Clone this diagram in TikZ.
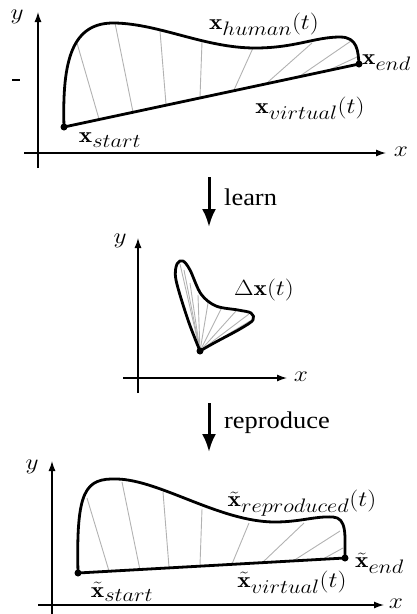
\RequirePackage{fix-cm}
\documentclass[tikz,border=0pt]{standalone}
\usepackage{fontspec}
\newfontfamily\tnr{Liberation Serif}
\usetikzlibrary{arrows.meta,calc}
\newcommand{\wide}[1]{\scalebox{1.1}[1]{#1}}
\newcommand{\mwide}[1]{\scalebox{1.15}[1]{#1}}
\newcommand{\sbx}[1]{\mbox{\fontsize{19.5}{22}\selectfont$#1$}}
\begin{document}
\begin{tikzpicture}[x=1pt,y=-1pt,
  axis/.style={line width=1.3pt,-{Latex[length=10pt,width=7pt]}},
  traj/.style={line width=2.8pt,line join=round,line cap=round},
  spoke/.style={black!30,line width=0.9pt},
  lbl/.style={font=\fontsize{22}{26}\selectfont,inner sep=0pt},
  word/.style={font=\tnr\fontsize{24}{28}\selectfont,inner sep=0pt,anchor=west},
  dot/.style={circle,fill=black,inner sep=0pt,minimum size=7pt},
  flowarrow/.style={line width=3pt,-{Latex[length=18pt,width=14pt]}}]
\useasboundingbox (0,0) rectangle (416,614);
% ---------------- top panel ----------------
\coordinate (ax1l) at (24,153); \coordinate (ax1r) at (386,153);
\coordinate (ay1b) at (38,168); \coordinate (ay1t) at (38,12);
\draw[axis] (ax1l) -- (ax1r);
\draw[axis] (ay1b) -- (ay1t);
\node[lbl] (x1) at (401,152) {\mwide{$x$}};
\node[lbl] (y1) at (17,17) {\mwide{$y$}};
\coordinate (tk1) at (12,80); \coordinate (tk2) at (20,80);
\draw[line width=1.8pt] (tk1) -- (tk2);
\coordinate (s1) at (64,127); \coordinate (e1) at (359,64);
\foreach \ca/\cb/\la/\lb in {77/43/99/119, 115/23/133/112, 160/31/166/104, 202/42/200/97,
  253/48/234/90, 312/43/268/82, 351/41/300/76, 357/57/329/70}{
  \draw[spoke] (\ca,\cb) -- (\la,\lb);}
\draw[traj] (s1) -- (e1);
\draw[traj] (s1) .. controls (62,60) and (72,22) .. (115,23)
  .. controls (160,24) and (205,48) .. (255,48)
  .. controls (295,48) and (315,37) .. (340,37)
  .. controls (358,37) and (358,52) .. (e1);
\node[dot] (ds1) at (s1) {};
\node[dot] (de1) at (e1) {};
\node[lbl] (hum) at (264,24) {\mwide{$\mathbf{x}_{\sbx{human}}(t)$}};
\node[lbl,anchor=west] (xe1) at (362,63) {\mwide{$\mathbf{x}_{\sbx{end}}$}};
\node[lbl] (xv1) at (310,108) {\mwide{$\mathbf{x}_{\sbx{virtual}}(t)$}};
\node[lbl] (xs1) at (110,140) {\mwide{$\mathbf{x}_{\sbx{start}}$}};
% ---------------- learn ----------------
\coordinate (la1) at (209,177); \coordinate (la2) at (209,227);
\draw[flowarrow] (la1) -- (la2);
\node[word] (learn) at (224,197) {\wide{learn}};
% ---------------- middle panel ----------------
\coordinate (ax2l) at (123,378); \coordinate (ax2r) at (287,378);
\coordinate (ay2b) at (138,393); \coordinate (ay2t) at (138,238);
\draw[axis] (ax2l) -- (ax2r);
\draw[axis] (ay2b) -- (ay2t);
\node[lbl] (x2) at (301,377) {\mwide{$x$}};
\node[lbl] (y2) at (120,241) {\mwide{$y$}};
\coordinate (d0) at (200,351);
\foreach \p in {(180,264),(184,270),(190,283),(198,295),(208,303),(221,309),(236,311),(249,314),(250,321)}{
  \draw[spoke] (d0) -- \p;}
\draw[traj] plot[smooth,tension=0.55] coordinates {(200,351) (188,320) (176,280) (177,264) (183,261) (190,270) (201,294) (216,306) (238,310) (251,313) (253,320) (240,329) (214,343) (200,351)};
\node[dot] (dd0) at (d0) {};
\node[lbl] (dx) at (264,290) {\mwide{$\Delta\mathbf{x}(t)$}};
% ---------------- reproduce ----------------
\coordinate (ra1) at (209,403); \coordinate (ra2) at (209,452);
\draw[flowarrow] (ra1) -- (ra2);
\node[word] (repro) at (224,423) {\wide{reproduce}};
% ---------------- bottom panel ----------------
\coordinate (ax3l) at (38,605); \coordinate (ax3r) at (384,605);
\coordinate (ay3b) at (52,620); \coordinate (ay3t) at (52,461);
\draw[axis] (ax3l) -- (ax3r);
\draw[axis] (ay3b) -- (ay3t);
\node[lbl] (x3) at (396,604) {\mwide{$x$}};
\node[lbl] (y3) at (32,467) {\mwide{$y$}};
\coordinate (s3) at (78,573); \coordinate (e3) at (345,558);
\foreach \ca/\cb/\la/\lb in {87/498/109/571, 122/482/140/570, 163/492/169/567, 202/509/200/565,
  249/523/232/564, 304/523/263/562, 340/531/293/561, 343/548/323/559}{
  \draw[spoke] (\ca,\cb) -- (\la,\lb);}
\draw[traj] (s3) -- (e3);
\draw[traj] (s3) .. controls (76,490) and (85,478) .. (117,479)
  .. controls (160,480) and (220,522) .. (275,522)
  .. controls (300,522) and (315,516) .. (333,517)
  .. controls (347,518) and (345,535) .. (e3);
\node[dot] (ds3) at (s3) {};
\node[dot] (de3) at (e3) {};
\node[lbl] (rep) at (302,503) {\mwide{$\tilde{\mathbf{x}}_{\sbx{reproduced}}(t)$}};
\node[lbl,anchor=west] (xe3) at (355,563) {\mwide{$\tilde{\mathbf{x}}_{\sbx{end}}$}};
\node[lbl] (xv3) at (292,582) {\mwide{$\tilde{\mathbf{x}}_{\sbx{virtual}}(t)$}};
\node[lbl] (xs3) at (122,592) {\mwide{$\tilde{\mathbf{x}}_{\sbx{start}}$}};
\end{tikzpicture}
\end{document}
